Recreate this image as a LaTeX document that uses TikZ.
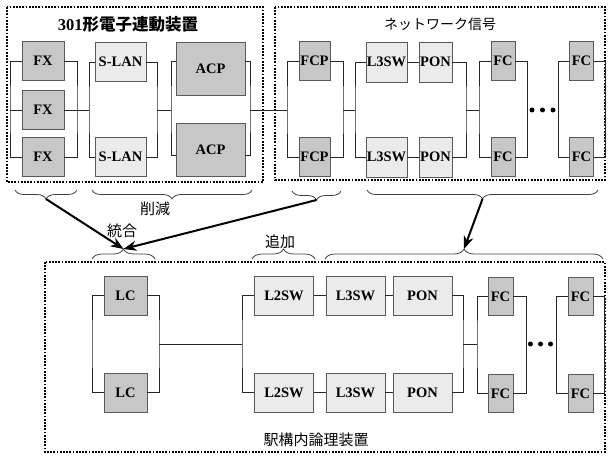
\documentclass[tikz,border=0pt]{standalone}
\usepackage{fontspec}
\setmainfont{Liberation Serif}
\newfontfamily\jp{Noto Sans CJK JP}
\usetikzlibrary{decorations.pathreplacing,arrows.meta}
\begin{document}
\begin{tikzpicture}[x=1pt,y=-1pt,
  box/.style={draw=black!65, line width=0.8pt, inner sep=0pt, font=\fontsize{14.5}{16}\selectfont\bfseries},
  dk/.style={box, fill=black!22},
  lt/.style={box, fill=black!8},
  wire/.style={draw=black!85, line width=0.9pt},
  zone/.style={draw=black, line width=1.8pt, dash pattern=on 1.8pt off 1.4pt},
  brc/.style={draw=black!75, line width=0.8pt, decorate, decoration={brace, amplitude=#1}},
  big/.style={draw=black, line width=2pt, -{Stealth[length=13pt,width=10pt]}},
  jl/.style={font=\jp\fontsize{15}{17}\selectfont},
  dotn/.style={circle, fill=black, inner sep=0pt, minimum size=5pt},
  fxs/.style={minimum width=42pt, minimum height=39pt},
  sls/.style={minimum width=51pt, minimum height=39pt},
  acps/.style={minimum width=69pt, minimum height=53pt},
  fcps/.style={minimum width=31pt, minimum height=39pt},
  l3s/.style={minimum width=41pt, minimum height=40pt},
  pons/.style={minimum width=33pt, minimum height=40pt},
  fcs/.style={minimum width=24pt, minimum height=39pt},
  lcs/.style={minimum width=43pt, minimum height=39pt},
  sws/.style={minimum width=59pt, minimum height=39pt},
  fcb/.style={minimum width=25pt, minimum height=38pt},
]
\useasboundingbox (0,0) rectangle (609,457);

% zones
\draw[zone] (7,7) rectangle (263,182);
\draw[zone] (275,7) rectangle (605,180);
\draw[zone] (45,262) rectangle (605,452);

\node[font={\fontsize{16.5}{18}\selectfont\bfseries}] (t1) at (128,24) {301{\jp\bfseries 形電子連動装置}};
\node[font=\jp\fontsize{14}{16}\selectfont] (t2) at (440,24) {ネットワーク信号};
\node[jl] (t3) at (316,440) {駅構内論理装置};

% top boxes
\node[dk, fxs] (fx1) at (43,61) {FX};
\node[dk, fxs] (fx2) at (43,110) {FX};
\node[dk, fxs] (fx3) at (43,157) {FX};
\node[lt, sls] (sl1) at (120.5,62) {S-LAN};
\node[lt, sls] (sl2) at (120.5,157) {S-LAN};
\node[dk, acps] (acp1) at (210.5,68.5) {ACP};
\node[dk, acps] (acp2) at (210.5,149.5) {ACP};
\node[dk, fcps] (fcp1) at (314.5,61) {FCP};
\node[dk, fcps] (fcp2) at (314.5,157) {FCP};
\node[lt, l3s] (l31) at (386.5,62) {L3SW};
\node[lt, l3s] (l32) at (386.5,157) {L3SW};
\node[lt, pons] (pon1) at (435.5,62) {PON};
\node[lt, pons] (pon2) at (435.5,157) {PON};
\node[dk, fcs] (fc1) at (503,61) {FC};
\node[dk, fcs] (fc2) at (503,157) {FC};
\node[dk, fcs] (fc3) at (581.5,61) {FC};
\node[dk, fcs] (fc4) at (581.5,157) {FC};

\coordinate (a1) at (10,110);
\coordinate (a2) at (77,110);
\coordinate (a3) at (89,110);
\coordinate (a4) at (157,110);
\coordinate (a5) at (171,110);
\coordinate (a6) at (250,110);
\coordinate (a7) at (287,110);
\coordinate (a8) at (343,110);
\coordinate (a9) at (355,110);
\coordinate (a10) at (466,110);
\coordinate (a11) at (479,110);
\coordinate (a12) at (527,110);
\coordinate (a13) at (558,110);
\coordinate (a14) at (605,110);

\draw[wire] (fx1.west) -| (a1) |- (fx3.west);
\draw[wire] (fx2.west) -- (a1);
\draw[wire] (fx1.east) -| (a2) |- (fx3.east);
\draw[wire] (fx2.east) -- (a3);
\draw[wire] (sl1.west) -| (a3) |- (sl2.west);
\draw[wire] (sl1.east) -| (a4) |- (sl2.east);
\draw[wire] (a4) -- (a5);
\draw[wire] ([yshift=7.5pt]acp1.west) -| (a5) |- ([yshift=-6pt]acp2.west);
\draw[wire] ([yshift=7.5pt]acp1.east) -| (a6) |- ([yshift=-6pt]acp2.east);
\draw[wire] (a6) -- (a7);
\draw[wire] (fcp1.west) -| (a7) |- (fcp2.west);
\draw[wire] (fcp1.east) -| (a8) |- (fcp2.east);
\draw[wire] (a8) -- (a9);
\draw[wire] (l31.west) -| (a9) |- (l32.west);
\draw[wire] (l31.east) -- (pon1.west);
\draw[wire] (l32.east) -- (pon2.west);
\draw[wire] (pon1.east) -| (a10) |- (pon2.east);
\draw[wire] (a10) -- (a11);
\draw[wire] (fc1.west) -| (a11) |- (fc2.west);
\draw[wire] (fc1.east) -| (a12) |- (fc2.east);
\draw[wire] (fc3.west) -| (a13) |- (fc4.west);
\draw[wire] (fc3.east) -| (a14) |- (fc4.east);
\node[dotn] (d1) at (532,110) {};
\node[dotn] (d2) at (542.5,110) {};
\node[dotn] (d3) at (553,110) {};

% bottom boxes
\node[dk, lcs] (lc1) at (125.5,295.5) {LC};
\node[dk, lcs] (lc2) at (125.5,392.5) {LC};
\node[lt, sws] (l21b) at (284,295.5) {L2SW};
\node[lt, sws] (l22b) at (284,392.5) {L2SW};
\node[lt, sws] (l31b) at (355.5,295.5) {L3SW};
\node[lt, sws] (l32b) at (355.5,392.5) {L3SW};
\node[lt, sws] (pon1b) at (422.5,295.5) {PON};
\node[lt, sws] (pon2b) at (422.5,392.5) {PON};
\node[dk, fcb] (fc1b) at (500.5,296.5) {FC};
\node[dk, fcb] (fc2b) at (500.5,393.5) {FC};
\node[dk, fcb] (fc3b) at (580.5,296.5) {FC};
\node[dk, fcb] (fc4b) at (580.5,393.5) {FC};

\coordinate (c1) at (92,344);
\coordinate (c2) at (159,344);
\coordinate (c3) at (242,344);
\coordinate (c4) at (463,344);
\coordinate (c5) at (477,344);
\coordinate (c6) at (526,344);
\coordinate (c7) at (556,344);
\coordinate (c8) at (604,344);

\draw[wire] (lc1.west) -| (c1) |- (lc2.west);
\draw[wire] (lc1.east) -| (c2) |- (lc2.east);
\draw[wire] (c2) -- (c3);
\draw[wire] (l21b.west) -| (c3) |- (l22b.west);
\draw[wire] (l21b.east) -- (l31b.west);
\draw[wire] (l22b.east) -- (l32b.west);
\draw[wire] (l31b.east) -- (pon1b.west);
\draw[wire] (l32b.east) -- (pon2b.west);
\draw[wire] (pon1b.east) -| (c4) |- (pon2b.east);
\draw[wire] (c4) -- (c5);
\draw[wire] (fc1b.west) -| (c5) |- (fc2b.west);
\draw[wire] (fc1b.east) -| (c6) |- (fc2b.east);
\draw[wire] (fc3b.west) -| (c7) |- (fc4b.west);
\draw[wire] (fc3b.east) -| (c8) |- (fc4b.east);
\node[dotn] (e1) at (530.5,344) {};
\node[dotn] (e2) at (540.5,344) {};
\node[dotn] (e3) at (550.5,344) {};

% braces (top, pointing down)
\draw[brc=9pt] (77,190) -- (15,190);
\draw[brc=9pt] (252,190) -- (92,190);
\draw[brc=9pt] (341,191) -- (292,191);
\draw[brc=9pt] (598,190) -- (367,190);
\coordinate (bt1) at (46,199);
\coordinate (bt3) at (316.5,200);
\coordinate (bt4) at (482.5,199);
% braces (bottom, pointing up)
\draw[brc=10pt] (92,259) -- (155,259);
\draw[brc=10pt] (252,259) -- (315,259);
\draw[brc=10pt] (325,259) -- (603,259);
\coordinate (bb5) at (123.5,249);
\coordinate (bb7) at (464,249);

\draw[big] (bt1) -- (bb5);
\draw[big] (bt3) -- (bb5);
\draw[big] (bt4) -- (bb7);

\node[jl] (l1) at (155,209) {削減};
\node[jl] (l2) at (122,231) {統合};
\node[jl] (l3) at (280,242) {追加};
\end{tikzpicture}
\end{document}
